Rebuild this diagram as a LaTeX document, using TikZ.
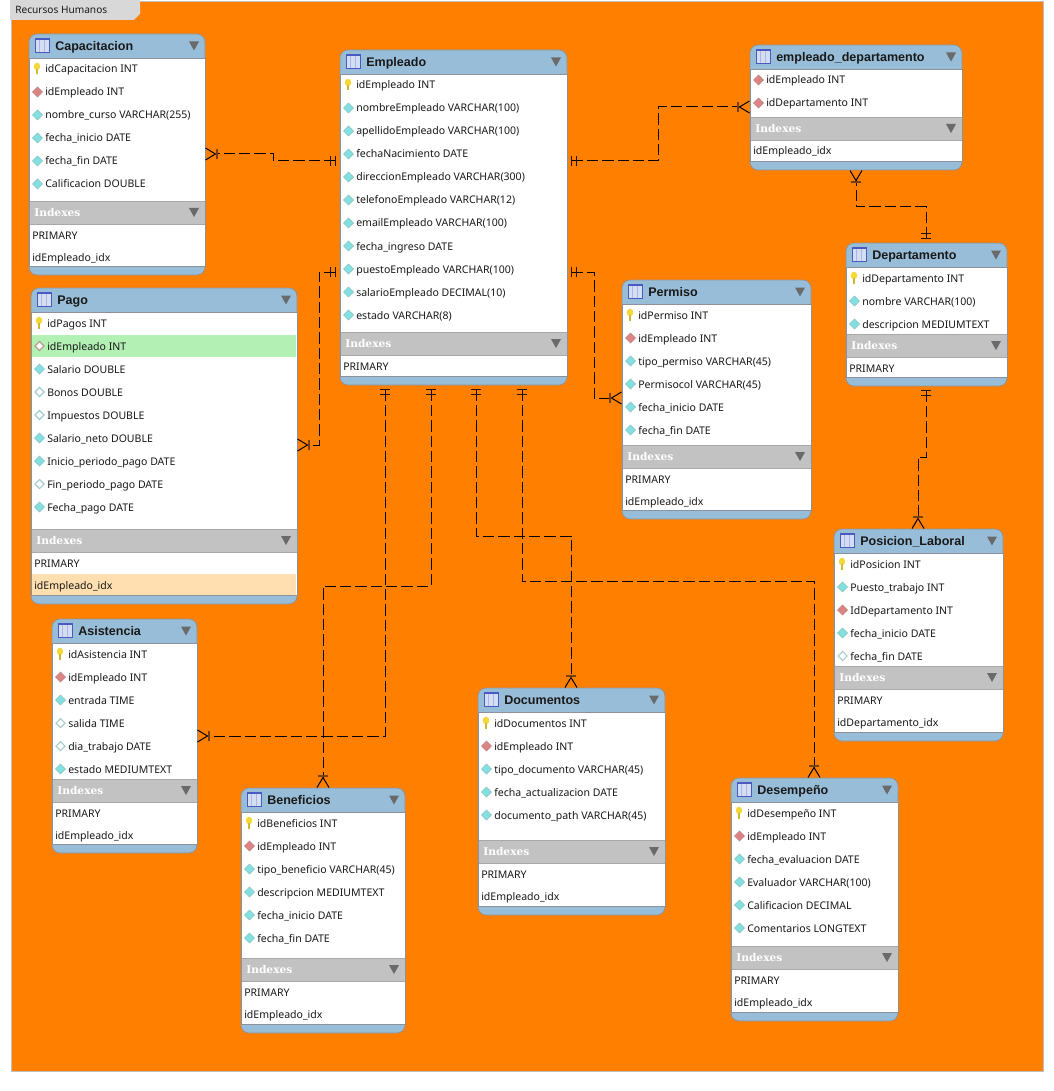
\documentclass[tikz,border=0pt]{standalone}
\usepackage{fontspec}
\setmainfont{Noto Sans}
\newfontfamily\idxfont{DejaVu Serif}
\newfontfamily\titlefont{Liberation Sans}
\usepackage{tikz}
\usetikzlibrary{arrows.meta, positioning, fit}
\definecolor{canvasorange}{HTML}{FF8000}
\definecolor{headblue}{HTML}{98BDD8}
\definecolor{bandgray}{HTML}{C2C2C2}
\definecolor{bandline}{HTML}{A8A8A8}
\definecolor{tablegray}{HTML}{8C9298}
\definecolor{tabgray}{HTML}{D8D8D8}
\definecolor{arrowgray}{HTML}{6A6A6A}
\definecolor{barbrown}{HTML}{7A4010}
\definecolor{keyyellow}{HTML}{F5D838}
\definecolor{fkred}{HTML}{DC8484}
\definecolor{nncyan}{HTML}{84E0E0}
\definecolor{nullgray}{HTML}{A4CCCC}
\definecolor{fgbrown}{HTML}{B89C90}
\definecolor{rowgreen}{HTML}{B3F0B3}
\definecolor{rowpeach}{HTML}{FFDFB0}
\definecolor{iconblue}{HTML}{4A5AC0}
\definecolor{iconfill}{HTML}{D4DEF2}

%% row markers: x1, x2, y of the row
\newcommand{\markpk}[3]{\fill[keyyellow] ({#1+8},{#3-2.5}) ellipse [x radius=3.2, y radius=3.8];
  \fill[keyyellow!85!black] ({#1+6.7},{#3}) rectangle ({#1+9.3},{#3+5.5});}
\newcommand{\markdiam}[4]{\filldraw[fill=#4, draw=#4!70!gray, line width=.5pt]
  ({#1+8.5},{#3-5}) -- ({#1+13.5},{#3}) -- ({#1+8.5},{#3+5}) -- ({#1+3.5},{#3}) -- cycle;}
\newcommand{\markfk}[3]{\markdiam{#1}{#2}{#3}{fkred}}
\newcommand{\marknn}[3]{\markdiam{#1}{#2}{#3}{nncyan}}
\newcommand{\markno}[3]{\filldraw[fill=white, draw=nullgray, line width=.8pt]
  ({#1+8.5},{#3-4.5}) -- ({#1+13},{#3}) -- ({#1+8.5},{#3+4.5}) -- ({#1+4},{#3}) -- cycle;}
\newcommand{\markhl}[3]{\fill[rowgreen] ({#1+1},{#3-11.5}) rectangle ({#2-1},{#3+10.5});
  \filldraw[fill=white, draw=fgbrown, line width=.8pt]
  ({#1+8.5},{#3-4.5}) -- ({#1+13},{#3}) -- ({#1+8.5},{#3+4.5}) -- ({#1+4},{#3}) -- cycle;}
\newcommand{\markix}[3]{}
\newcommand{\markih}[3]{\fill[rowpeach] ({#1+1},{#3-11}) rectangle ({#2-1},{#3+11});}

%% id, x1, y1, x2, y2, top of index band, title, rows, indexes
\newcommand{\erdtable}[9]{
  \node[tablebox, fit={(#2,#3) (#4,#5)}] (#1) {};
  \fill[white] (#2,{#3+24}) rectangle (#4,{#5-9});
  \foreach \rowkind/\rowtext [count=\i] in {#8} {
    \pgfmathsetmacro{\rowy}{#3+12+23*\i}
    \csname mark\rowkind\endcsname{#2}{#4}{\rowy}
    \node[rowtext] (#1-r\i) at ({#2+16},{\rowy+4}) {\rowtext};
  }
  \fill[bandgray] (#2,#6) rectangle (#4,{#6+23});
  \draw[bandline] (#2,#6) -- (#4,#6) (#2,{#6+23}) -- (#4,{#6+23});
  \foreach \rowkind/\rowtext [count=\i] in {#9} {
    \pgfmathsetmacro{\rowy}{#6+12+22*\i}
    \csname mark\rowkind\endcsname{#2}{#4}{\rowy}
    \node[rowtext] (#1-i\i) at ({#2+3},{\rowy+4}) {\rowtext};
  }
  \draw[tablegray, line width=.6pt] (#2,{#3+24}) -- (#2,{#5-9}) -- (#4,{#5-9}) -- (#4,{#3+24}) -- cycle;
  % title bar with its icon
  \fill[black!30] ({#2+7.5},{#3+6}) rectangle ({#2+21},{#3+19});
  \filldraw[fill=iconfill, draw=iconblue, line width=.5pt] ({#2+6},{#3+4.5}) rectangle ({#2+20},{#3+18});
  \fill[iconblue] ({#2+6},{#3+4}) rectangle ({#2+20},{#3+6});
  \draw[iconblue!45!white, line width=.4pt] ({#2+10.5},{#3+6}) -- ({#2+10.5},{#3+18}) ({#2+15},{#3+6}) -- ({#2+15},{#3+18});
  \node[titletext] (#1-t) at ({#2+26},{#3+16.5}) {#7};
  \fill[arrowgray] ({#4-16},{#3+7.5}) -- ({#4-6},{#3+7.5}) -- ({#4-11},{#3+16.5}) -- cycle;
  \node[bandtext] (#1-b) at ({#2+5},{#6+15.5}) {Indexes};
  \fill[arrowgray] ({#4-16},{#6+7}) -- ({#4-6},{#6+7}) -- ({#4-11},{#6+16}) -- cycle;
}

\begin{document}
\begin{tikzpicture}[
    x=0.75pt, y=-0.75pt,
    tablebox/.style  = {draw=tablegray, fill=headblue, rounded corners=6pt, inner sep=0pt, outer sep=0pt, line width=.5pt},
    rowtext/.style   = {anchor=base west, inner sep=0pt, font=\fontsize{7.9}{10}\selectfont, text=black!90},
    titletext/.style = {anchor=base west, inner sep=0pt, font=\fontsize{9.4}{11}\selectfont\titlefont\bfseries, text=black!90},
    bandtext/.style  = {anchor=base west, inner sep=0pt, font=\fontsize{8}{10}\selectfont\idxfont\bfseries, text=white},
    rel/.style       = {line width=.75pt, dash pattern=on 8.5pt off 3pt},
    onemany/.style   = {rel, {Bar[width=7.5pt, line width=.8pt, color=black!70!barbrown, sep=3pt]Bar[width=7.5pt, line width=.8pt, color=black!70!barbrown, sep=3pt]}-{Bar[width=8pt, line width=1.2pt, color=barbrown, sep=0pt]Straight Barb[reversed, length=7.5pt, width=9pt, line width=.75pt, sep=0pt]}},
  ]

    \useasboundingbox (0,0) rectangle (1053,1091);
    \fill[white] (0,0) rectangle (1053,1091);

    %% ── Canvas ──────────────────────────────────────────────────────────
    \filldraw[fill=canvasorange, draw=black!25] (11,1) rectangle (1043,1071);
    \fill[tabgray] (10,0) -- (140,0) -- (140,14) -- (134,20) -- (10,20) -- cycle;
    \node[rowtext, font=\fontsize{7.6}{9}\selectfont] (tab) at (15,14) {Recursos Humanos};

    %% ── Tables ──────────────────────────────────────────────────────────
    \erdtable{cap}{29}{34}{205}{275}{201}{Capacitacion}
      {pk/idCapacitacion INT, fk/idEmpleado INT, nn/nombre\_curso VARCHAR(255),
       nn/fecha\_inicio DATE, nn/fecha\_fin DATE, nn/Calificacion DOUBLE}
      {ix/PRIMARY, ix/idEmpleado\_idx}

    \erdtable{pago}{31}{288}{297}{604}{529}{Pago}
      {pk/idPagos INT, hl/idEmpleado INT, nn/Salario DOUBLE, no/Bonos DOUBLE,
       no/Impuestos DOUBLE, nn/Salario\_neto DOUBLE, nn/Inicio\_periodo\_pago DATE,
       no/Fin\_periodo\_pago DATE, nn/Fecha\_pago DATE}
      {ix/PRIMARY, ih/idEmpleado\_idx}

    \erdtable{emp}{340}{50}{567}{385}{332}{Empleado}
      {pk/idEmpleado INT, nn/nombreEmpleado VARCHAR(100), nn/apellidoEmpleado VARCHAR(100),
       nn/fechaNacimiento DATE, nn/direccionEmpleado VARCHAR(300), nn/telefonoEmpleado VARCHAR(12),
       nn/emailEmpleado VARCHAR(100), nn/fecha\_ingreso DATE, nn/puestoEmpleado VARCHAR(100),
       nn/salarioEmpleado DECIMAL(10), nn/estado VARCHAR(8)}
      {ix/PRIMARY}

    \erdtable{empdep}{750}{45}{962}{170}{117}{empleado\_departamento}
      {fk/idEmpleado INT, fk/idDepartamento INT}
      {ix/idEmpleado\_idx}

    \erdtable{dep}{846}{243}{1007}{386}{334}{Departamento}
      {pk/idDepartamento INT, nn/nombre VARCHAR(100), nn/descripcion MEDIUMTEXT}
      {ix/PRIMARY}

    \erdtable{perm}{622}{280}{811}{519}{445}{Permiso}
      {pk/idPermiso INT, fk/idEmpleado INT, nn/tipo\_permiso VARCHAR(45),
       nn/Permisocol VARCHAR(45), nn/fecha\_inicio DATE, nn/fecha\_fin DATE}
      {ix/PRIMARY, ix/idEmpleado\_idx}

    \erdtable{pos}{834}{529}{1003}{741}{666}{Posicion\_Laboral}
      {pk/idPosicion INT, nn/Puesto\_trabajo INT, fk/IdDepartamento INT,
       nn/fecha\_inicio DATE, no/fecha\_fin DATE}
      {ix/PRIMARY, ix/idDepartamento\_idx}

    \erdtable{asis}{52}{619}{197}{853}{779}{Asistencia}
      {pk/idAsistencia INT, fk/idEmpleado INT, nn/entrada TIME, no/salida TIME,
       no/dia\_trabajo DATE, nn/estado MEDIUMTEXT}
      {ix/PRIMARY, ix/idEmpleado\_idx}

    \erdtable{ben}{241}{788}{405}{1033}{958}{Beneficios}
      {pk/idBeneficios INT, fk/idEmpleado INT, nn/tipo\_beneficio VARCHAR(45),
       nn/descripcion MEDIUMTEXT, nn/fecha\_inicio DATE, nn/fecha\_fin DATE}
      {ix/PRIMARY, ix/idEmpleado\_idx}

    \erdtable{doc}{478}{688}{665}{915}{840}{Documentos}
      {pk/idDocumentos INT, fk/idEmpleado INT, nn/tipo\_documento VARCHAR(45),
       nn/fecha\_actualizacion DATE, nn/documento\_path VARCHAR(45)}
      {ix/PRIMARY, ix/idEmpleado\_idx}

    \erdtable{des}{731}{778}{898}{1021}{946}{Desempeño}
      {pk/idDesempeño INT, fk/idEmpleado INT, nn/fecha\_evaluacion DATE,
       nn/Evaluador VARCHAR(100), nn/Calificacion DECIMAL, nn/Comentarios LONGTEXT}
      {ix/PRIMARY, ix/idEmpleado\_idx}

    %% ── Relations, one side first ───────────────────────────────────────
    \draw[onemany] (emp.west |- 0,161) -- (273,161) -- (273,154) -- (cap.east |- 0,154);
    \draw[onemany] (emp.west |- 0,272) -- (319,272) -- (319,445) -- (pago.east |- 0,445);
    \draw[onemany] (emp.east |- 0,161) -- (658,161) -- (658,107) -- (empdep.west |- 0,107);
    \draw[onemany] (emp.east |- 0,272) -- (594,272) -- (594,398) -- (perm.west |- 0,398);
    \draw[onemany] (385,0 |- emp.south) -- (385,736) -- (asis.east |- 0,736);
    \draw[onemany] (431,0 |- emp.south) -- (431,586) -- (323,586) -- (323,0 |- ben.north);
    \draw[onemany] (476,0 |- emp.south) -- (476,536) -- (571,536) -- (571,0 |- doc.north);
    \draw[onemany] (522,0 |- emp.south) -- (522,581) -- (814,581) -- (814,0 |- des.north);
    \draw[onemany] (926,0 |- dep.north) -- (926,207) -- (856,207) -- (856,0 |- empdep.south);
    \draw[onemany] (926,0 |- dep.south) -- (926,457) -- (918,457) -- (918,0 |- pos.north);

\end{tikzpicture}
\end{document}
